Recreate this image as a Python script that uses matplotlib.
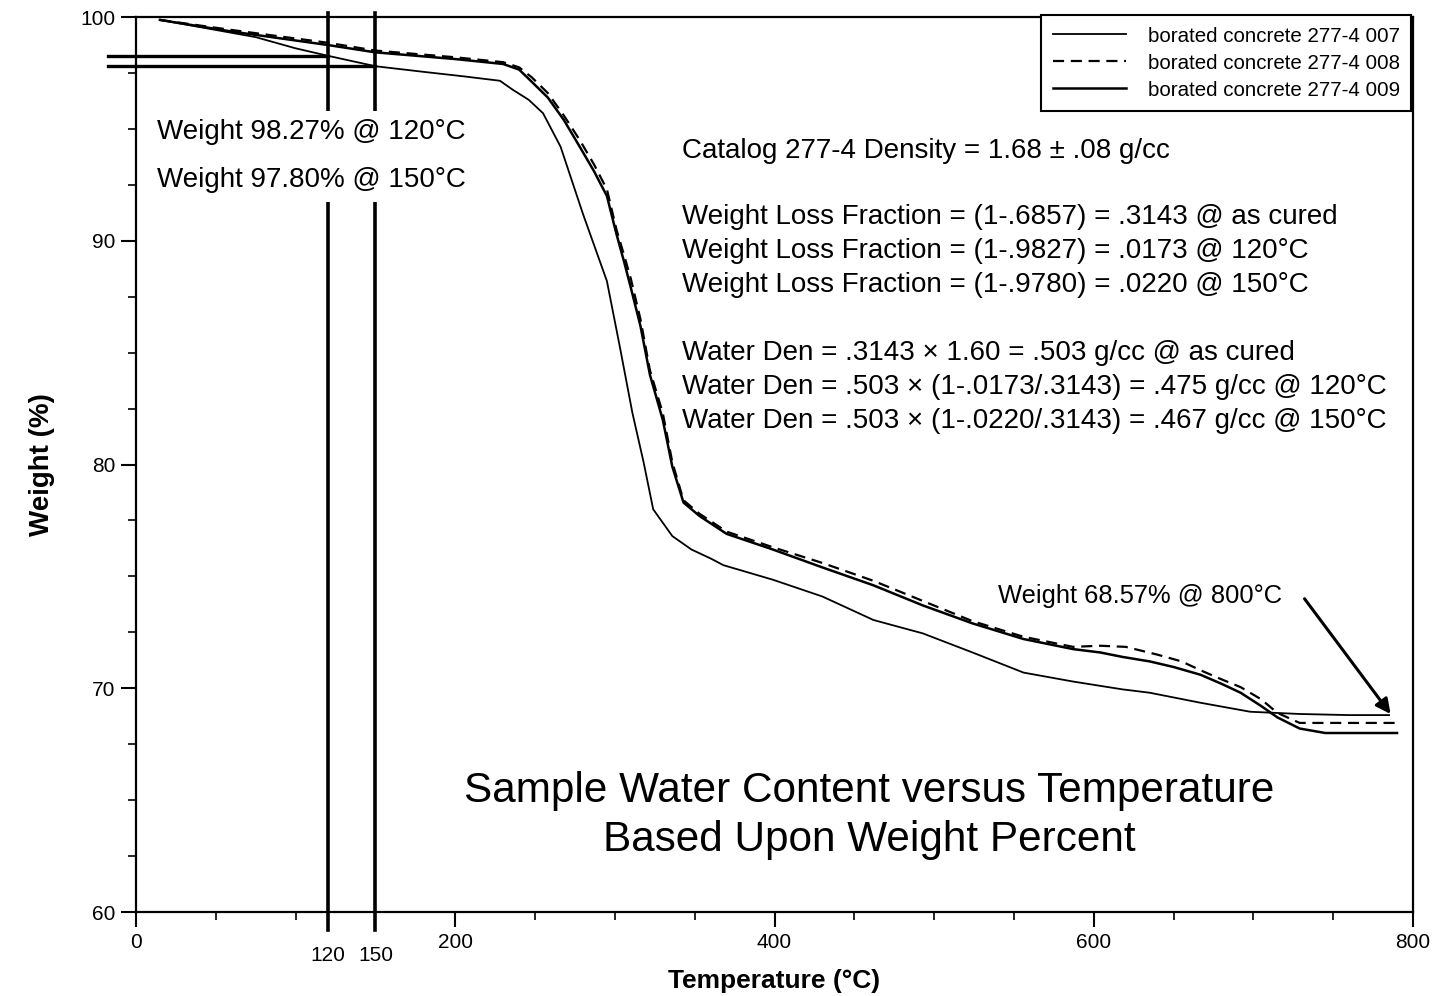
import matplotlib
matplotlib.use("Agg")
import matplotlib.pyplot as plt
from matplotlib.ticker import MultipleLocator
import matplotlib.transforms as mtransforms

plt.rcParams['font.family'] = ['Liberation Sans', 'DejaVu Sans']

# ---------------- data ----------------
temp_007 = [15, 40, 75, 100, 120, 150, 180, 205, 228, 236, 246, 255, 266, 280, 295, 303,
            311, 318, 324, 336, 348, 360, 368, 399, 430, 462, 493, 524, 556, 587, 618,
            635, 667, 698, 729, 760, 785]
weight_007 = [99.87, 99.55, 99.1, 98.6, 98.27, 97.80, 97.55, 97.35, 97.15, 96.75, 96.3,
              95.7, 94.2, 91.2, 88.2, 85.3, 82.3, 80.1, 78.0, 76.8, 76.2, 75.8, 75.5,
              74.85, 74.1, 73.05, 72.45, 71.6, 70.7, 70.3, 69.95, 69.8, 69.35, 68.95,
              68.85, 68.8, 68.8]

temp_008 = [15, 60, 120, 150, 200, 230, 240, 248, 258, 268, 278, 287, 295, 301, 306, 310,
            316, 322, 330, 336, 343, 353, 370, 399, 430, 462, 493, 524, 556, 587, 604,
            620, 640, 655, 667, 680, 692, 705, 715, 729, 760, 790]
weight_008 = [99.87, 99.42, 98.85, 98.5, 98.2, 97.98, 97.75, 97.3, 96.6, 95.6, 94.5, 93.4,
              92.3, 90.5, 89.3, 88.3, 86.5, 84.2, 82.3, 80.1, 78.4, 77.8, 77.0, 76.3,
              75.6, 74.8, 73.9, 73.0, 72.3, 71.85, 71.9, 71.85, 71.5, 71.2, 70.8, 70.4,
              70.05, 69.5, 68.9, 68.45, 68.45, 68.45]

temp_009 = [15, 60, 120, 150, 200, 230, 240, 248, 258, 268, 278, 287, 295, 301, 306, 310,
            316, 322, 330, 336, 343, 353, 370, 399, 430, 462, 493, 524, 556, 587, 604,
            618, 635, 650, 667, 680, 692, 705, 715, 729, 745, 790]
weight_009 = [99.87, 99.35, 98.75, 98.42, 98.12, 97.9, 97.65, 97.1, 96.4, 95.4, 94.2, 93.1,
              92.0, 90.3, 89.0, 87.9, 86.2, 84.0, 82.0, 79.9, 78.3, 77.7, 76.9, 76.2,
              75.4, 74.6, 73.7, 72.9, 72.2, 71.75, 71.6, 71.4, 71.2, 70.95, 70.6, 70.2,
              69.8, 69.2, 68.7, 68.2, 68.0, 68.0]

series_labels = ["borated concrete 277-4 007", "borated concrete 277-4 008",
                 "borated concrete 277-4 009"]

marker_temps = [120, 150]
marker_weights = [98.27, 97.80]
final_weight = 68.57
final_temp = 787

x_ticks = [0, 200, 400, 600, 800]
y_ticks = [60, 70, 80, 90, 100]

notes_left = ["Weight 98.27% @ 120°C", "Weight 97.80% @ 150°C"]
notes_right = [
    "Catalog 277-4 Density = 1.68 ± .08 g/cc",
    "Weight Loss Fraction = (1-.6857) = .3143 @ as cured",
    "Weight Loss Fraction = (1-.9827) = .0173 @ 120°C",
    "Weight Loss Fraction = (1-.9780) = .0220 @ 150°C",
    "Water Den = .3143 × 1.60 = .503 g/cc @ as cured",
    "Water Den = .503 × (1-.0173/.3143) = .475 g/cc @ 120°C",
    "Water Den = .503 × (1-.0220/.3143) = .467 g/cc @ 150°C",
]
title_lines = ["Sample Water Content versus Temperature", "Based Upon Weight Percent"]

# ---------------- figure ----------------
fig = plt.figure(figsize=(14.44, 9.96), dpi=100)
ax = fig.add_axes([136/1444, 1-912/996, (1413-136)/1444, (912-17)/996])
ax.set_xlim(0, 800)
ax.set_ylim(60, 100)

ax.plot(temp_007, weight_007, color='black', lw=1.3, ls='-', label=series_labels[0])
ax.plot(temp_008, weight_008, color='black', lw=1.6, ls=(0, (5, 3)), label=series_labels[1])
ax.plot(temp_009, weight_009, color='black', lw=1.8, ls='-', label=series_labels[2])

# marker lines at 120 and 150 C
for t in marker_temps:
    ax.plot([t, t], [59.2, 100.2], color='black', lw=2.6, clip_on=False, zorder=3)
for t, w in zip(marker_temps, marker_weights):
    ax.plot([-17.5, t], [w, w], color='black', lw=2.4, clip_on=False, zorder=3)

# ticks
ax.set_xticks(x_ticks)
ax.set_yticks(y_ticks)
ax.xaxis.set_minor_locator(MultipleLocator(50))
ax.yaxis.set_minor_locator(MultipleLocator(2.5))
ax.tick_params(which='major', direction='out', length=11, width=1.5, labelsize=15, pad=4)
ax.tick_params(which='minor', direction='out', length=6, width=1.2)
for s in ax.spines.values():
    s.set_linewidth(1.6)

trans = mtransforms.blended_transform_factory(ax.transData, ax.transAxes)
for t in marker_temps:
    ax.text(t, -0.049, str(t), transform=trans, ha='center', va='center', fontsize=15)

ax.set_xlabel("Temperature (°C)", fontsize=19, fontweight='bold', labelpad=12)
ax.set_ylabel("Weight (%)", fontsize=20, fontweight='bold', labelpad=18)

# notes
ax.text(13.2, 93.78, "\n".join(notes_left), fontsize=20, ha='left', va='center',
        linespacing=2.1, zorder=5,
        bbox=dict(facecolor='white', edgecolor='none', pad=6))

right_y = [94.01, 91.06, 89.54, 88.02, 84.98, 83.46, 81.94]
for txt, yy in zip(notes_right, right_y):
    ax.text(342, yy, txt, fontsize=20, ha='left', va='center')

ax.text(718, 74.12, "Weight 68.57% @ 800°C", fontsize=18.4, ha='right', va='center')
ax.annotate('', xy=(final_temp, 68.75), xytext=(731, 74.1),
            arrowprops=dict(arrowstyle='-|>', color='black', lw=2.2, mutation_scale=22))

ax.text(459.3, 65.41, title_lines[0], fontsize=30.4, ha='center', va='center')
ax.text(459.3, 63.22, title_lines[1], fontsize=30.4, ha='center', va='center')

leg = ax.legend(loc='upper right', bbox_to_anchor=(0.9985, 1.002), borderaxespad=0,
                fontsize=14.8, handlelength=3.55, handletextpad=1.07, labelspacing=0.39,
                fancybox=False, framealpha=1, edgecolor='black', borderpad=0.55)
leg.get_frame().set_linewidth(1.5)

fig.savefig("out.png", dpi=100)
